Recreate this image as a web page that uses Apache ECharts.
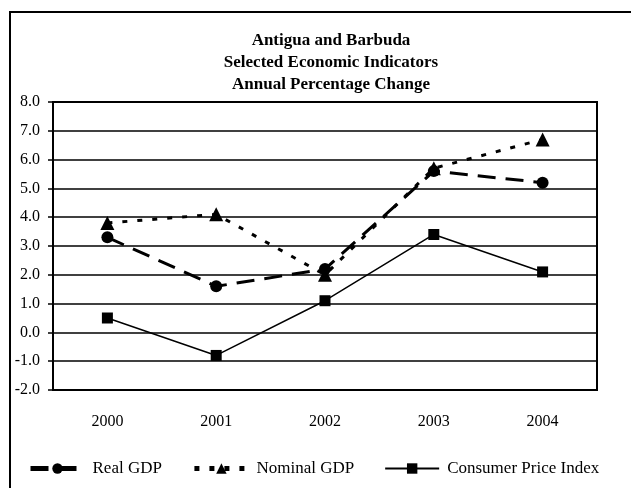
<!DOCTYPE html>
<html>
<head>
<meta charset="utf-8">
<script src="https://cdn.jsdelivr.net/npm/echarts@6/dist/echarts.min.js"></script>
<style>html,body{margin:0;padding:0;background:#fff;}#c{width:631px;height:488px;}</style>
</head>
<body>
<div id="c"></div>
<script>
var years = ['2000', '2001', '2002', '2003', '2004'];
var realGDP = [3.3, 1.6, 2.2, 5.6, 5.2];
var nominalGDP = [3.8, 4.1, 2.0, 5.7, 6.7];
var cpi = [0.5, -0.8, 1.1, 3.4, 2.1];
var titleLines = ['Antigua and Barbuda', 'Selected Economic Indicators', 'Annual Percentage Change'];
var seriesNames = ['Real GDP', 'Nominal GDP', 'Consumer Price Index'];

var FONT = '"Liberation Serif", "Times New Roman", serif';
var chart = echarts.init(document.getElementById('c'), null, {renderer: 'canvas'});
chart.setOption({
  backgroundColor: '#ffffff',
  animation: false,
  title: {
    text: titleLines.join('\n'),
    left: 326, top: 25, textAlign: 'center',
    textStyle: {fontFamily: FONT, fontWeight: 'bold', fontSize: 17, lineHeight: 22, color: '#000'}
  },
  graphic: [{
    type: 'rect', shape: {x: 10, y: 12, width: 640, height: 500},
    style: {fill: 'none', stroke: '#000', lineWidth: 2}, silent: true, z: 100
  }],
  legend: {
    left: 23, top: 455, itemWidth: 54, itemHeight: 13, itemGap: 30,
    textStyle: {fontFamily: FONT, fontSize: 17, color: '#000', padding: [0, 0, 0, 3]},
    data: [
      {name: seriesNames[0], lineStyle: {width: 5}},
      {name: seriesNames[1], lineStyle: {width: 5}},
      {name: seriesNames[2], lineStyle: {width: 2}}
    ]
  },
  grid: {left: 53, right: 34, top: 102, bottom: 98, show: true, borderColor: '#000', borderWidth: 2, backgroundColor: 'transparent'},
  xAxis: {
    type: 'category', data: years, boundaryGap: true,
    axisLine: {show: false}, axisTick: {show: false},
    axisLabel: {fontFamily: FONT, fontSize: 16, color: '#000', margin: 24},
    splitLine: {show: false}
  },
  yAxis: {
    type: 'value', min: -2, max: 8, interval: 1,
    axisLine: {show: true, lineStyle: {color: '#000', width: 2}},
    axisTick: {show: true, length: 5, lineStyle: {color: '#000', width: 1.5}},
    axisLabel: {fontFamily: FONT, fontSize: 16, color: '#000', margin: 13, formatter: function (v) { return v.toFixed(1); }},
    splitLine: {show: true, lineStyle: {color: '#000', width: 1.5}}
  },
  series: [
    {
      name: seriesNames[0], type: 'line', data: realGDP,
      symbol: 'circle', symbolSize: 12,
      lineStyle: {color: '#000', width: 3, type: [18, 10]},
      itemStyle: {color: '#000'}, z: 3
    },
    {
      name: seriesNames[1], type: 'line', data: nominalGDP,
      symbol: 'triangle', symbolSize: 14,
      lineStyle: {color: '#000', width: 3, type: [5, 10]},
      itemStyle: {color: '#000'}, z: 4
    },
    {
      name: seriesNames[2], type: 'line', data: cpi,
      symbol: 'rect', symbolSize: 11,
      lineStyle: {color: '#000', width: 1.5, type: 'solid'},
      itemStyle: {color: '#000'}, z: 2
    }
  ]
});
</script>
</body>
</html>
